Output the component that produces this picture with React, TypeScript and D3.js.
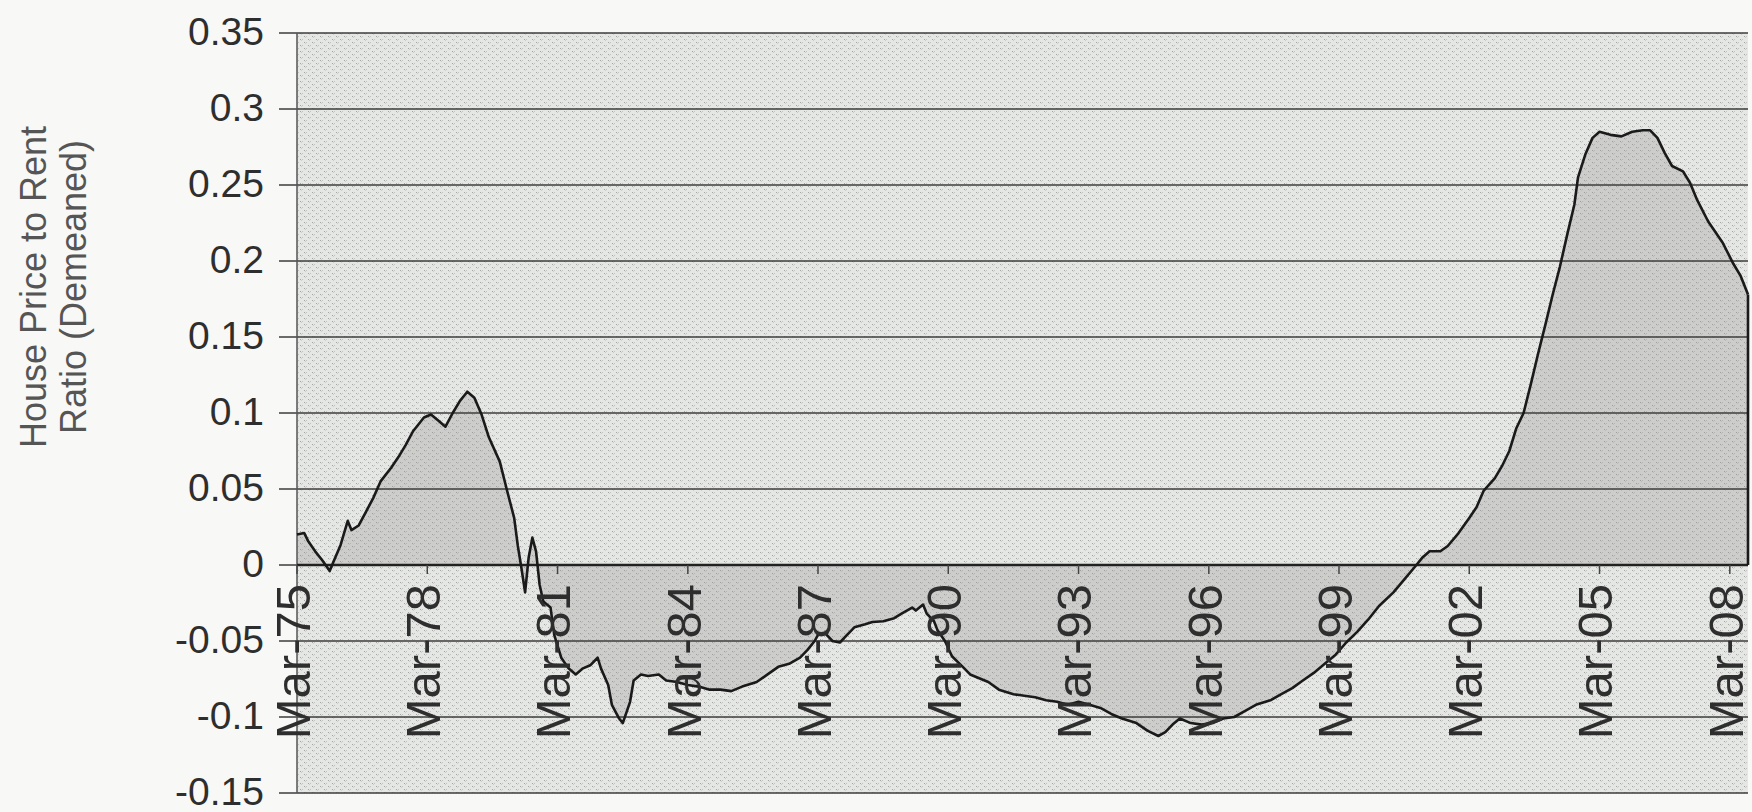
import * as d3 from "d3"

const dates = [
  "1975-03", "1975-05", "1975-06", "1975-08", "1975-10", "1975-12", "1976-01", "1976-03",
  "1976-05", "1976-06", "1976-08", "1976-10", "1976-12", "1977-02", "1977-05", "1977-07",
  "1977-09", "1977-11", "1978-02", "1978-04", "1978-06", "1978-08", "1978-10", "1978-12",
  "1979-02", "1979-04", "1979-06", "1979-08", "1979-11", "1980-01", "1980-03", "1980-04",
  "1980-05", "1980-06", "1980-07", "1980-08", "1980-09", "1980-10", "1980-11", "1981-01",
  "1981-02", "1981-04", "1981-06", "1981-08", "1981-10", "1981-12", "1982-02", "1982-03",
  "1982-05", "1982-06", "1982-08", "1982-09", "1982-11", "1982-12", "1983-02", "1983-04",
  "1983-07", "1983-09", "1983-12", "1984-03", "1984-06", "1984-09", "1984-12", "1985-03",
  "1985-06", "1985-10", "1986-01", "1986-04", "1986-07", "1986-10", "1986-12", "1987-02",
  "1987-03", "1987-05", "1987-07", "1987-09", "1987-11", "1988-01", "1988-04", "1988-06",
  "1988-09", "1988-12", "1989-02", "1989-05", "1989-06", "1989-08", "1989-09", "1989-11",
  "1989-12", "1990-02", "1990-04", "1990-07", "1990-09", "1990-11", "1991-02", "1991-05",
  "1991-09", "1991-12", "1992-03", "1992-06", "1992-09", "1992-12", "1993-03", "1993-06",
  "1993-09", "1993-12", "1994-03", "1994-07", "1994-10", "1995-01", "1995-03", "1995-05",
  "1995-07", "1995-10", "1996-01", "1996-04", "1996-07", "1996-10", "1997-01", "1997-04",
  "1997-08", "1997-11", "1998-02", "1998-05", "1998-08", "1998-11", "1999-02", "1999-05",
  "1999-08", "1999-11", "2000-02", "2000-06", "2000-09", "2000-12", "2001-02", "2001-04",
  "2001-07", "2001-09", "2001-12", "2002-03", "2002-05", "2002-07", "2002-10", "2002-12",
  "2003-02", "2003-04", "2003-06", "2003-08", "2003-10", "2003-12", "2004-02", "2004-04",
  "2004-06", "2004-08", "2004-09", "2004-11", "2005-01", "2005-03", "2005-06", "2005-09",
  "2005-12", "2006-03", "2006-05", "2006-07", "2006-09", "2006-11", "2007-02", "2007-04",
  "2007-06", "2007-09", "2008-01", "2008-04", "2008-06", "2008-08",
]

const ratio = [
  0.02, 0.021, 0.016, 0.009, 0.003, -0.004, 0.002, 0.013,
  0.029, 0.023, 0.026, 0.035, 0.044, 0.055, 0.064, 0.071,
  0.079, 0.088, 0.097, 0.099, 0.095, 0.091, 0.1, 0.108,
  0.114, 0.11, 0.099, 0.084, 0.068, 0.049, 0.031, 0.0125,
  -0.002, -0.018, 0.005, 0.018, 0.009, -0.013, -0.024, -0.028,
  -0.046, -0.061, -0.068, -0.072, -0.068, -0.066, -0.061, -0.068,
  -0.079, -0.092, -0.101, -0.104, -0.09, -0.076, -0.072, -0.073,
  -0.072, -0.076, -0.077, -0.079, -0.08, -0.082, -0.082, -0.083,
  -0.08, -0.077, -0.072, -0.067, -0.065, -0.061, -0.056, -0.05,
  -0.046, -0.045, -0.05, -0.051, -0.046, -0.041, -0.039, -0.0375,
  -0.037, -0.035, -0.032, -0.028, -0.03, -0.026, -0.032, -0.037,
  -0.043, -0.05, -0.06, -0.067, -0.072, -0.074, -0.077, -0.082,
  -0.085, -0.086, -0.087, -0.089, -0.09, -0.092, -0.09, -0.092,
  -0.094, -0.098, -0.101, -0.104, -0.109, -0.1125, -0.11, -0.105,
  -0.101, -0.104, -0.105, -0.104, -0.101, -0.1, -0.096, -0.092,
  -0.089, -0.085, -0.081, -0.076, -0.071, -0.065, -0.059, -0.051,
  -0.044, -0.036, -0.027, -0.018, -0.0095, -0.001, 0.005, 0.009,
  0.009, 0.0125, 0.021, 0.031, 0.038, 0.049, 0.057, 0.065,
  0.075, 0.09, 0.1, 0.119, 0.139, 0.158, 0.178, 0.196,
  0.217, 0.237, 0.255, 0.27, 0.281, 0.285, 0.283, 0.282,
  0.285, 0.286, 0.286, 0.281, 0.271, 0.2625, 0.259, 0.2515,
  0.24, 0.226, 0.212, 0.198, 0.19, 0.178,
]

const xTickLabels = [
  "Mar-75", "Mar-78", "Mar-81", "Mar-84", "Mar-87", "Mar-90",
  "Mar-93", "Mar-96", "Mar-99", "Mar-02", "Mar-05", "Mar-08",
]

const yTicks = [0.35, 0.3, 0.25, 0.2, 0.15, 0.1, 0.05, 0, -0.05, -0.1, -0.15]
const yTickLabels = ["0.35", "0.3", "0.25", "0.2", "0.15", "0.1", "0.05", "0", "-0.05", "-0.1", "-0.15"]

const titleLines = ["House Price to Rent", "Ratio (Demeaned)"]

export default function App() {
  const width = 1752
  const height = 812
  const margin = { top: 33, right: 4, bottom: 19, left: 297 }

  const parseMonth = d3.timeParse("%Y-%m")
  const parseTick = d3.timeParse("%b-%y")
  const data = dates.map((d, i) => ({ date: parseMonth(d) as Date, value: ratio[i] }))

  const x = d3
    .scaleTime()
    .domain([parseMonth("1975-03") as Date, parseMonth("2008-08") as Date])
    .range([margin.left, width - margin.right])

  const y = d3
    .scaleLinear()
    .domain([-0.15, 0.35])
    .range([height - margin.bottom, margin.top])

  const area = d3
    .area<{ date: Date; value: number }>()
    .x((d) => x(d.date))
    .y0(y(0))
    .y1((d) => y(d.value))

  const line = d3
    .line<{ date: Date; value: number }>()
    .x((d) => x(d.date))
    .y((d) => y(d.value))

  const last = data[data.length - 1]
  const font = "'Liberation Sans', Arial, Helvetica, sans-serif"

  return (
    <svg
      width={width}
      height={height}
      style={{ position: "absolute", left: 0, top: 0, background: "#f8f8f6" }}
    >
      <defs>
        <pattern id="halftone" width="8" height="6" patternUnits="userSpaceOnUse">
          <rect width="8" height="6" fill="#e5e7e4" />
          <rect x="0" y="0" width="1" height="1" fill="#a4a5a3" />
          <rect x="2" y="0" width="1" height="1" fill="#c2c3c1" />
          <rect x="4" y="3" width="1" height="1" fill="#a4a5a3" />
          <rect x="6" y="3" width="1" height="1" fill="#c2c3c1" />
          <rect x="1" y="1" width="1" height="1" fill="#cdcecc" />
          <rect x="5" y="4" width="1" height="1" fill="#cdcecc" />
        </pattern>
      </defs>

      {/* plot area */}
      <rect
        x={margin.left}
        y={margin.top}
        width={width - margin.right - margin.left}
        height={height - margin.bottom - margin.top}
        fill="url(#halftone)"
      />

      {/* shaded area between the series and zero */}
      <path d={area(data) ?? ""} fill="#8f908e" fillOpacity={0.28} />

      {/* gridlines + y ticks */}
      {yTicks.map((t) => (
        <line
          key={t}
          x1={margin.left - 18}
          x2={width - margin.right}
          y1={y(t)}
          y2={y(t)}
          stroke="#3c3c3c"
          strokeWidth={1.5}
        />
      ))}

      {/* left axis */}
      <line
        x1={margin.left}
        x2={margin.left}
        y1={margin.top}
        y2={height - margin.bottom}
        stroke="#555"
        strokeWidth={1.5}
      />

      {/* x axis along zero */}
      <line x1={margin.left} x2={width - margin.right} y1={y(0)} y2={y(0)} stroke="#222" strokeWidth={2.6} />
      {xTickLabels.map((l) => {
        const tx = x(parseTick(l) as Date)
        return <line key={l} x1={tx} x2={tx} y1={y(0)} y2={y(0) + 9} stroke="#444" strokeWidth={1.5} />
      })}

      {/* series outline, closed down to zero at the end */}
      <path d={line(data) ?? ""} fill="none" stroke="#1a1a1a" strokeWidth={2.6} strokeLinejoin="round" />
      <line x1={x(last.date)} x2={x(last.date)} y1={y(last.value)} y2={y(0)} stroke="#1a1a1a" strokeWidth={2.6} />

      {/* y tick labels */}
      {yTicks.map((t, i) => (
        <text
          key={t}
          x={264}
          y={y(t)}
          dy="0.3em"
          textAnchor="end"
          fontFamily={font}
          fontSize={39}
          fill="#2e2e2e"
        >
          {yTickLabels[i]}
        </text>
      ))}

      {/* x tick labels, rotated */}
      {xTickLabels.map((l) => {
        const tx = x(parseTick(l) as Date) - 2
        const ty = y(0) + 19
        return (
          <text
            key={l}
            transform={`translate(${tx},${ty}) rotate(-90)`}
            dy="0.3em"
            textAnchor="end"
            fontFamily={font}
            fontSize={49}
            fill="#2e2e2e"
          >
            {l}
          </text>
        )
      })}

      {/* y axis title */}
      {titleLines.map((t, i) => (
        <text
          key={t}
          transform={`translate(${33 + i * 40},287) rotate(-90)`}
          dy="0.36em"
          textAnchor="middle"
          fontFamily={font}
          fontSize={36}
          fill="#555"
        >
          {t}
        </text>
      ))}
    </svg>
  )
}
